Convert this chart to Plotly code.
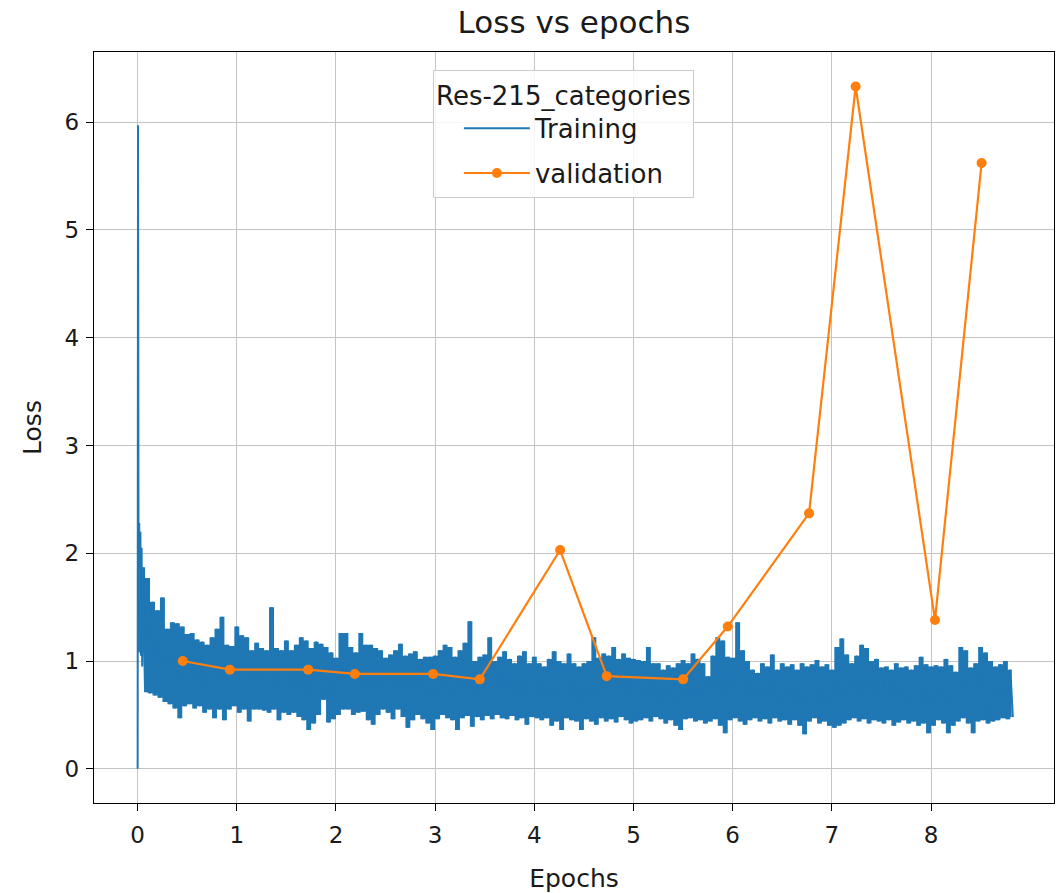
import plotly.graph_objects as go

# ---------------- data ----------------
# first few iterations of training (the initial spike at epoch 0)
train_head_epochs = [0.0, 0.004, 0.010, 0.016, 0.022, 0.028, 0.034, 0.040, 0.046]
train_head_loss = [0.0, 5.97, 1.10, 2.28, 1.08, 2.20, 1.05, 2.05, 0.95]

# training loss, read every 0.05 epoch: the local peak and the local trough
train_epochs = [round(0.05 * k, 2) for k in range(1, 177)]
train_peak = [
    1.87, 1.77, 1.55, 1.47, 1.59, 1.30, 1.36, 1.35, 1.32, 1.25, 1.26, 1.20, 1.18, 1.15, 1.22, 1.30, 1.41, 1.15, 1.14, 1.32,
    1.24, 1.22, 1.10, 1.17, 1.12, 1.10, 1.50, 1.12, 1.10, 1.19, 1.10, 1.15, 1.22, 1.19, 1.12, 1.18, 1.16, 1.13, 1.08, 1.03,
    1.26, 1.26, 1.13, 1.08, 1.26, 1.15, 1.15, 1.12, 1.10, 1.03, 1.06, 1.10, 1.16, 1.05, 1.07, 1.09, 1.02, 1.04, 1.04, 1.05,
    1.10, 1.15, 1.13, 1.04, 1.10, 1.17, 1.37, 1.00, 1.04, 1.06, 1.22, 1.00, 1.04, 1.09, 1.02, 0.98, 1.05, 1.09, 0.98, 1.04,
    0.98, 0.95, 1.02, 1.09, 1.00, 0.98, 1.07, 0.98, 0.95, 0.98, 1.00, 1.22, 1.03, 1.07, 1.05, 1.13, 1.02, 1.07, 1.03, 1.02,
    1.01, 1.00, 1.13, 0.98, 0.98, 0.92, 0.96, 0.94, 0.98, 1.01, 0.98, 1.07, 1.02, 0.98, 0.86, 1.05, 1.22, 1.19, 1.04, 1.03,
    1.36, 1.10, 1.00, 0.92, 0.89, 0.98, 0.95, 1.06, 0.92, 0.98, 0.95, 0.97, 0.92, 0.98, 0.95, 0.97, 1.01, 0.95, 0.97, 0.92,
    1.13, 1.21, 1.06, 0.98, 1.05, 1.15, 1.12, 1.00, 1.02, 0.94, 0.95, 0.92, 0.98, 0.94, 0.95, 0.92, 0.96, 1.04, 0.97, 0.95,
    0.96, 0.95, 1.02, 0.96, 0.90, 1.13, 1.10, 0.94, 0.98, 1.13, 1.08, 1.00, 0.95, 0.97, 1.00, 0.92,
]
train_trough = [
    0.71, 0.70, 0.68, 0.66, 0.62, 0.60, 0.56, 0.47, 0.58, 0.60, 0.56, 0.58, 0.52, 0.55, 0.47, 0.55, 0.45, 0.55, 0.58, 0.52,
    0.55, 0.44, 0.55, 0.55, 0.54, 0.52, 0.55, 0.45, 0.52, 0.50, 0.52, 0.48, 0.45, 0.36, 0.42, 0.50, 0.64, 0.43, 0.46, 0.50,
    0.55, 0.55, 0.50, 0.52, 0.53, 0.45, 0.41, 0.50, 0.55, 0.52, 0.46, 0.55, 0.48, 0.38, 0.45, 0.50, 0.46, 0.42, 0.36, 0.46,
    0.50, 0.47, 0.45, 0.36, 0.47, 0.49, 0.39, 0.48, 0.45, 0.49, 0.46, 0.50, 0.47, 0.46, 0.49, 0.45, 0.47, 0.41, 0.48, 0.47,
    0.45, 0.47, 0.40, 0.44, 0.36, 0.47, 0.45, 0.44, 0.36, 0.46, 0.44, 0.41, 0.47, 0.44, 0.46, 0.43, 0.48, 0.45, 0.42, 0.44,
    0.45, 0.47, 0.44, 0.48, 0.46, 0.42, 0.45, 0.40, 0.36, 0.46, 0.47, 0.44, 0.45, 0.42, 0.44, 0.46, 0.40, 0.33, 0.45, 0.47,
    0.44, 0.41, 0.45, 0.47, 0.44, 0.46, 0.42, 0.47, 0.44, 0.45, 0.41, 0.45, 0.40, 0.32, 0.44, 0.47, 0.42, 0.44, 0.40, 0.38,
    0.40, 0.42, 0.45, 0.47, 0.44, 0.46, 0.42, 0.45, 0.44, 0.42, 0.45, 0.40, 0.43, 0.45, 0.42, 0.44, 0.40, 0.42, 0.33, 0.40,
    0.45, 0.42, 0.33, 0.40, 0.44, 0.47, 0.42, 0.33, 0.44, 0.45, 0.42, 0.44, 0.45, 0.47, 0.46, 0.48,
]
trough_offset = 0.025  # the trough sample sits half a step after the peak

# validation loss
val_epochs = [0.455, 0.93, 1.72, 2.19, 2.98, 3.45, 4.26, 4.73, 5.50, 5.95, 6.77, 7.24, 8.04, 8.51]
val_loss = [1.00, 0.92, 0.92, 0.88, 0.88, 0.83, 2.03, 0.86, 0.83, 1.32, 2.37, 6.33, 1.38, 5.62]

x_ticks = [0, 1, 2, 3, 4, 5, 6, 7, 8]
y_ticks = [0, 1, 2, 3, 4, 5, 6]

title_text = "Loss vs epochs"
x_label = "Epochs"
y_label = "Loss"
legend_title = "Res-215_categories"
train_name = "Training"
val_name = "validation"

BLUE = "#1f77b4"
ORANGE = "#ff7f0e"
FONT = "DejaVu Sans"
TXT = "#1a1a1a"

# ---------------- build series ----------------
trough_epochs = [e + trough_offset for e in train_epochs]
tr_x = list(train_head_epochs)
tr_y = list(train_head_loss)
for e, p, te, t in zip(train_epochs, train_peak, trough_epochs, train_trough):
    tr_x += [e, te]
    tr_y += [p, t]

band_x = train_epochs + trough_epochs[::-1]
band_y = train_peak + train_trough[::-1]

fig = go.Figure()
fig.add_trace(go.Scatter(
    x=band_x, y=band_y, mode="lines", fill="toself", fillcolor=BLUE,
    line=dict(width=0, color=BLUE, shape="hvh"), showlegend=False, hoverinfo="skip",
))
fig.add_trace(go.Scatter(
    x=tr_x, y=tr_y, mode="lines", name=train_name, legendgroup="a",
    line=dict(color=BLUE, width=2),
))
fig.add_trace(go.Scatter(
    x=val_epochs, y=val_loss, mode="lines+markers", name=val_name, legendgroup="b",
    line=dict(color=ORANGE, width=2.2),
    marker=dict(color=ORANGE, size=10),
))

axis_common = dict(
    showline=True, linecolor="black", linewidth=1.3, mirror=True,
    showgrid=True, gridcolor="#c4c4c4", gridwidth=1.3,
    ticks="outside", ticklen=7, tickwidth=1.3, tickcolor="black",
    zeroline=False, tickfont=dict(family=FONT, size=23, color=TXT),
)

fig.update_layout(
    width=1057, height=893,
    margin=dict(l=94, r=3, t=52, b=90),
    paper_bgcolor="white", plot_bgcolor="white",
    font=dict(family=FONT, color=TXT),
    title=dict(text=title_text, x=0.5, xref="paper", xanchor="center",
               y=1 - 22 / 893, yref="container", yanchor="middle",
               font=dict(family=FONT, size=31, color=TXT)),
    xaxis=dict(axis_common, range=[-0.44, 9.24], tickvals=x_ticks, ticklabelstandoff=4,
               title=dict(text=x_label, font=dict(family=FONT, size=25, color=TXT), standoff=22)),
    yaxis=dict(axis_common, range=[-0.317, 6.65], tickvals=y_ticks, ticklabelstandoff=2,
               title=dict(text=y_label, font=dict(family=FONT, size=25, color=TXT), standoff=15)),
    legend=dict(
        x=0.353, y=0.976, xanchor="left", yanchor="top",
        bgcolor="rgba(255,255,255,0.85)", bordercolor="#cccccc", borderwidth=1,
        font=dict(family=FONT, size=26, color=TXT),
        title=dict(text=legend_title, side="top center",
                   font=dict(family=FONT, size=26, color=TXT)),
        itemwidth=66, traceorder="grouped", tracegroupgap=8, indentation=25,
    ),
    showlegend=True,
)

fig.write_html("out.html")
